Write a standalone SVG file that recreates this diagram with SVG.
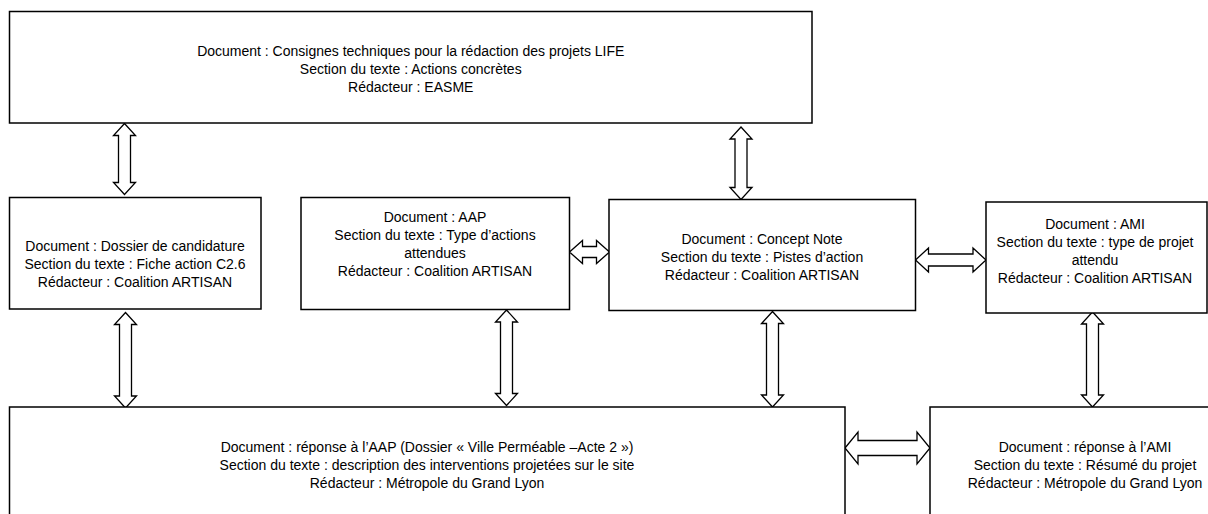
<svg xmlns="http://www.w3.org/2000/svg" width="1208" height="514" viewBox="0 0 1208 514">
<style>
.box{fill:#fff;stroke:#000;stroke-width:1.5}
.arr{fill:#fff;stroke:#000;stroke-width:1.3;stroke-linejoin:miter}
text{font-family:"Liberation Sans",Arial,sans-serif;font-size:14px;fill:#000;text-anchor:middle}
</style>
<rect x="0" y="0" width="1208" height="514" fill="#fff"/>
<g id="connectors">
<polygon class="arr" points="124.5,123.5 135.5,135.5 130.5,135.5 130.5,182.5 135.5,182.5 124.5,194.5 113.5,182.5 118.5,182.5 118.5,135.5 113.5,135.5"/>
<polygon class="arr" points="125.5,312.5 136.5,324.5 131.5,324.5 131.5,396 136.5,396 125.5,408 114.5,396 119.5,396 119.5,324.5 114.5,324.5"/>
<polygon class="arr" points="506.5,310 517.5,322 512.5,322 512.5,393.5 517.5,393.5 506.5,405.5 495.5,393.5 500.5,393.5 500.5,322 495.5,322"/>
<polygon class="arr" points="741,127 752,139 747,139 747,187.5 752,187.5 741,199.5 730,187.5 735,187.5 735,139 730,139"/>
<polygon class="arr" points="772.5,311.5 783.5,323.5 778.5,323.5 778.5,395 783.5,395 772.5,407 761.5,395 766.5,395 766.5,323.5 761.5,323.5"/>
<polygon class="arr" points="1092.5,312 1103.5,324 1098.5,324 1098.5,395 1103.5,395 1092.5,407 1081.5,395 1086.5,395 1086.5,324 1081.5,324"/>
<polygon class="arr" points="569.5,252 582.5,240.5 582.5,246.5 596.5,246.5 596.5,240.5 609.5,252 596.5,263.5 596.5,257.5 582.5,257.5 582.5,263.5"/>
<polygon class="arr" points="915.5,260 928.5,248 928.5,254 973,254 973,248 986,260 973,272 973,266 928.5,266 928.5,272"/>
<polygon class="arr" points="845,448 858,432 858,440.5 917,440.5 917,432 930,448 917,464 917,455.5 858,455.5 858,464"/>
</g>
<g id="node-life">
<rect class="box" x="9.5" y="11.5" width="802.5" height="111.5"/>
<text x="410.75" y="55.5">Document : Consignes techniques pour la rédaction des projets LIFE</text>
<text x="410.75" y="73.5">Section du texte : Actions concrètes</text>
<text x="410.75" y="91.5">Rédacteur : EASME</text>
</g>
<g id="node-dossier">
<rect class="box" x="9.5" y="197.5" width="251.5" height="111.5"/>
<text x="135" y="250.5">Document : Dossier de candidature</text>
<text x="135" y="268.5">Section du texte : Fiche action C2.6</text>
<text x="135" y="286.5">Rédacteur : Coalition ARTISAN</text>
</g>
<g id="node-aap">
<rect class="box" x="301" y="197.5" width="268.5" height="112"/>
<text x="435" y="222">Document : AAP</text>
<text x="435" y="240">Section du texte : Type d’actions</text>
<text x="435" y="258">attendues</text>
<text x="435" y="276">Rédacteur : Coalition ARTISAN</text>
</g>
<g id="node-concept">
<rect class="box" x="609" y="199.5" width="306.5" height="111"/>
<text x="762" y="244">Document : Concept Note</text>
<text x="762" y="262">Section du texte : Pistes d’action</text>
<text x="762" y="280">Rédacteur : Coalition ARTISAN</text>
</g>
<g id="node-ami">
<rect class="box" x="986" y="202" width="221" height="111"/>
<text x="1095" y="228.5">Document : AMI</text>
<text x="1095" y="246.5">Section du texte : type de projet</text>
<text x="1095" y="264.5">attendu</text>
<text x="1095" y="282.5">Rédacteur : Coalition ARTISAN</text>
</g>
<g id="node-reponse-aap">
<rect class="box" x="9.5" y="407" width="835.5" height="130"/>
<text x="427" y="452">Document : réponse à l’AAP (Dossier « Ville Perméable –Acte 2 »)</text>
<text x="427" y="470">Section du texte : description des interventions projetées sur le site</text>
<text x="427" y="488">Rédacteur : Métropole du Grand Lyon</text>
</g>
<g id="node-reponse-ami">
<rect class="box" x="930" y="407" width="320" height="130"/>
<text x="1085" y="452">Document : réponse à l’AMI</text>
<text x="1085" y="470">Section du texte : Résumé du projet</text>
<text x="1085" y="488">Rédacteur : Métropole du Grand Lyon</text>
</g>
</svg>
